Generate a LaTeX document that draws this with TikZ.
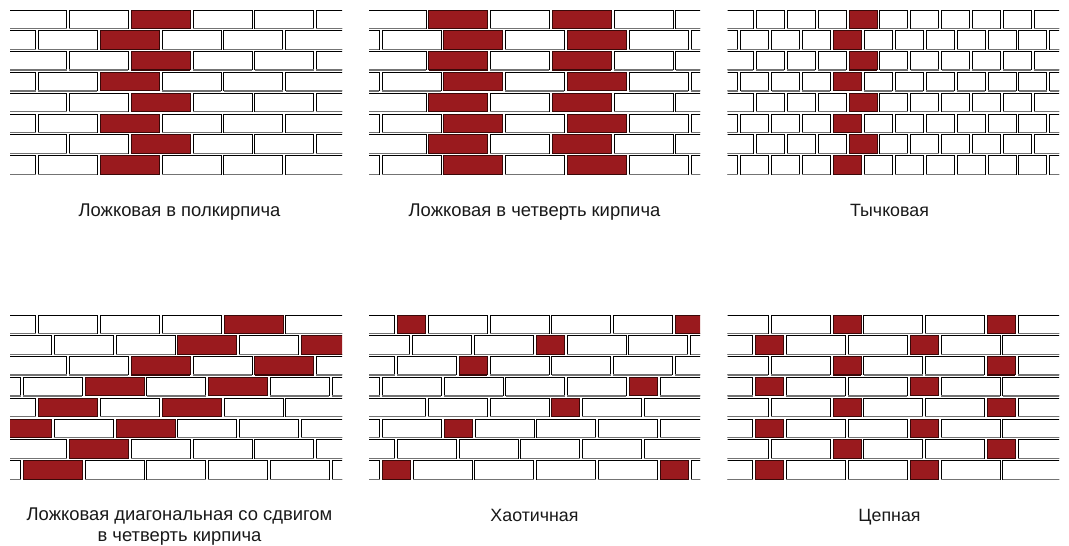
\documentclass[tikz,border=0pt]{standalone}
\usepackage{fontspec}
\setmainfont{Liberation Sans}
\definecolor{brickred}{HTML}{9A1A1E}
\definecolor{brickedge}{HTML}{3A0808}
\tikzset{
  wbrick/.style={draw=black,fill=white,line width=1pt},
  rbrick/.style={draw=brickedge,fill=brickred,line width=1pt},
  wunder/.style={draw=black!55,line width=1.3pt},
  runder/.style={draw=brickedge,line width=1.1pt},
  caption/.style={font=\fontsize{18.4}{21}\selectfont,align=center,text=black!90,inner sep=0pt,anchor=base},
  captionshort/.style={caption,font=\fontsize{17.8}{21}\selectfont},
  caption2/.style={caption,anchor=center}
}
\def\ybase{10}
\newcommand{\brk}[5]{% body style, under style, row, x, w
  \pgfmathsetmacro{\yt}{\ybase+(#3-1)*20.83}
  \path[#1] (#4,\yt) rectangle ({#4+#5},{\yt+18.2});
  \draw[#2] (#4,{\yt+18.4}) -- ({#4+#5},{\yt+18.4});
}
\newcommand{\wbs}[2]{\foreach \xx in {#2}{\brk{wbrick}{wunder}{#1}{\xx}{59}}}
\newcommand{\rbs}[3]{\foreach \xx in {#3}{\brk{rbrick}{runder}{#1}{\xx}{#2}}}
\newenvironment{wall}[3]{\def\ybase{#3}\begin{scope}\clip (#1,#3-1.5) rectangle (#2,#3+170);}{\end{scope}}
\begin{document}
\begin{tikzpicture}[x=1pt,y=-1pt]
\useasboundingbox (0,0) rectangle (1069,546);
\fill[white] (0,0) rectangle (1069,546);

% 1 half-brick stretcher
\begin{wall}{10}{342}{10}
\foreach \r in {1,3,5,7}{\wbs{\r}{7.6,69.3,193,254.7,316.3}\rbs{\r}{59}{131}}
\foreach \r in {2,4,6,8}{\wbs{\r}{-23.5,38.3,162,223.7,285.7}\rbs{\r}{59}{100.3}}
\end{wall}

% 2 quarter-brick stretcher
\begin{wall}{369}{700}{10}
\foreach \r in {1,3,5,7}{\wbs{\r}{367,490.3,614,675.7}\rbs{\r}{59}{428.7,552.3}}
\foreach \r in {2,4,6,8}{\wbs{\r}{320.2,382,505.3,629,691.3}\rbs{\r}{59}{443.7,567.3}}
\end{wall}

% 3 header
\begin{wall}{727.7}{1059}{10}
\foreach \r in {1,3,5,7}{%
  \foreach \xx in {725.4,756.3,787.3,818.3,879.7,910.7,941.7,972.3,1003.3,1034.3}{\brk{wbrick}{wunder}{\r}{\xx}{28}}
  \rbs{\r}{28}{849}}
\foreach \r in {2,4,6,8}{%
  \foreach \xx in {709.7,740.7,771.7,802.3,864.3,895.3,926,957,988,1018.7,1049.7}{\brk{wbrick}{wunder}{\r}{\xx}{28}}
  \rbs{\r}{28}{833.3}}
\end{wall}

% 4 diagonal
\begin{wall}{10}{342}{315}
\wbs{1}{-23.5,38.3,100.3,162.3,285.7}\rbs{1}{59}{224}
\wbs{2}{-7.8,54,116,239.3}\rbs{2}{59}{177.3,301.3}
\wbs{3}{7.6,69.3,193,316.3}\rbs{3}{59}{131,254.7}
\wbs{4}{-38.5,23.3,146.7,270.3,332}\rbs{4}{59}{85,208.3}
\wbs{5}{-23.5,100.3,224,285.7}\rbs{5}{59}{38.3,162.3}
\wbs{6}{54,177.3,239.3,301.3}\rbs{6}{59}{-7.3,116}
\wbs{7}{7.6,131.3,193,254.7,316.3}\rbs{7}{59}{69.3}
\wbs{8}{-38.5,85,146.7,208.3,270.3,332}\rbs{8}{59}{23.3}
\end{wall}

% 5 random
\begin{wall}{369}{700}{315}
\wbs{1}{335.3,428.3,490,551.7,613.3}\rbs{1}{28}{397,675.3}
\wbs{2}{350.9,412.7,474.7,567,628.7,690.7}\rbs{2}{28}{536}
\wbs{3}{335.5,397.3,490,551.7,613.3,675.3}\rbs{3}{28}{459}
\wbs{4}{320.5,382.3,444,505.7,567.3,660.3}\rbs{4}{28}{629}
\wbs{5}{366.5,428.3,490,582.3,644.3}\rbs{5}{28}{551.7}
\wbs{6}{320.5,382.3,475,536.7,598.3,660.3}\rbs{6}{28}{444}
\wbs{7}{335.5,397.3,459,520.7,582.3,644.3}
\wbs{8}{320.5,413,474.7,536.7,598.3,691.3}\rbs{8}{28}{382.3,660}
\end{wall}

% 6 chain
\begin{wall}{727.7}{1059}{315}
\foreach \r in {1,3,5,7}{\wbs{\r}{709.3,771.3,863.7,925.3,1018.3}\rbs{\r}{28}{833,987.3}}
\foreach \r in {2,4,6,8}{\wbs{\r}{693.7,786.3,848.3,941,1002.7}\rbs{\r}{28}{755.7,910}}
\end{wall}

\node[caption] (c1) at (179.5,216) {Ложковая в полкирпича};
\node[caption] (c2) at (534.5,216) {Ложковая в четверть кирпича};
\node[captionshort] (c3) at (889.5,216) {Тычковая};
\node[caption2] (c4) at (179.5,527) {Ложковая диагональная со сдвигом\\в четверть кирпича};
\node[captionshort] (c5) at (534.5,521) {Хаотичная};
\node[captionshort] (c6) at (889.5,521) {Цепная};
\end{tikzpicture}
\end{document}
